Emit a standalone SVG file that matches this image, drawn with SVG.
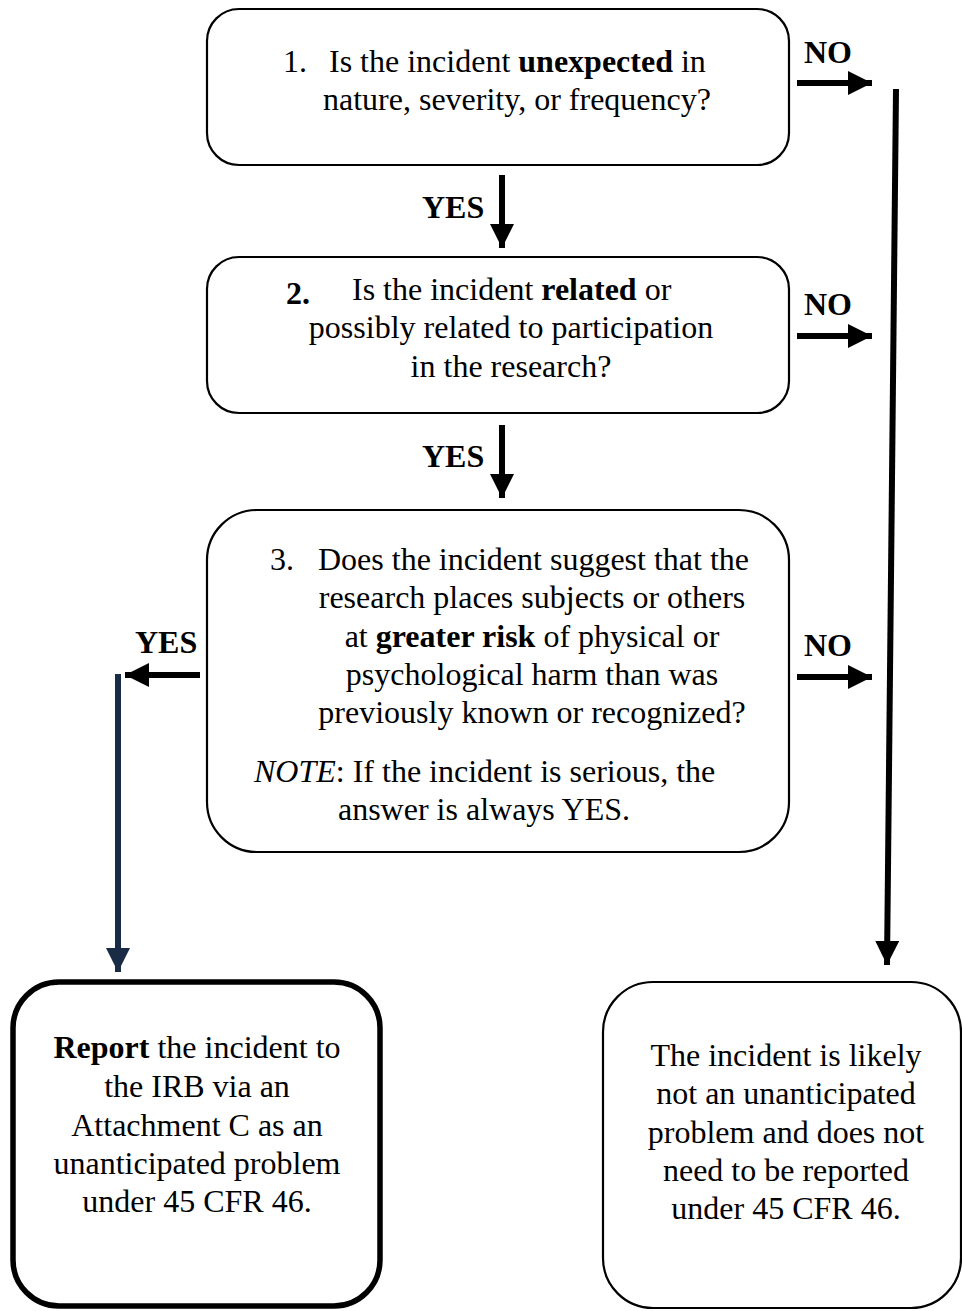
<svg xmlns="http://www.w3.org/2000/svg" width="962" height="1311" viewBox="0 0 962 1311">
<style>
.box{fill:#fff;stroke:#000;stroke-width:2.2}
.t{font-family:"Liberation Serif","Times New Roman",serif;font-size:32px;fill:#000}
.b{font-weight:bold}
.lbl{font-family:"Liberation Serif","Times New Roman",serif;font-size:32px;font-weight:bold;fill:#000}
.c{text-anchor:middle}
.ln{stroke:#000;stroke-width:6;fill:none}
</style>
<defs>
<marker id="ah" markerWidth="4" markerHeight="4" refX="4" refY="2" orient="auto" markerUnits="strokeWidth" viewBox="0 0 4 4">
<path d="M0,0 L4,2 L0,4 Z" fill="#000"/>
</marker>
<marker id="ahn" markerWidth="4" markerHeight="4" refX="4" refY="2" orient="auto" markerUnits="strokeWidth" viewBox="0 0 4 4">
<path d="M0,0 L4,2 L0,4 Z" fill="#1a2b45"/>
</marker>
</defs>
<rect width="962" height="1311" fill="#fff"/>

<g id="q1">
<rect class="box" x="207" y="9" width="582" height="156" rx="32"/>
<text class="t" x="283" y="72">1.</text>
<text class="t" x="329" y="72">Is the incident <tspan class="b">unexpected</tspan> in</text>
<text class="t" x="323" y="110">nature, severity, or frequency?</text>
</g>

<g id="q2">
<rect class="box" x="207" y="257" width="582" height="156" rx="32"/>
<text class="t b" x="286" y="304" font-size="26">2.</text>
<text class="t" x="352" y="300">Is the incident <tspan class="b">related</tspan> or</text>
<text class="t c" x="511" y="338">possibly related to participation</text>
<text class="t c" x="511" y="377">in the research?</text>
</g>

<g id="q3">
<rect class="box" x="207" y="510" width="582" height="342" rx="50"/>
<text class="t" x="270" y="570">3.</text>
<text class="t" x="318" y="570">Does the incident suggest that the</text>
<text class="t c" x="532" y="608">research places subjects or others</text>
<text class="t c" x="532" y="647">at <tspan class="b">greater risk</tspan> of physical or</text>
<text class="t c" x="532" y="685">psychological harm than was</text>
<text class="t c" x="532" y="723">previously known or recognized?</text>
<text class="t" x="254" y="782"><tspan font-style="italic">NOTE</tspan>: If the incident is serious, the</text>
<text class="t c" x="484" y="820">answer is always YES.</text>
</g>

<g id="report">
<rect x="13" y="982" width="367" height="324" rx="46" fill="#fff" stroke="#000" stroke-width="5.5"/>
<text class="t c" x="197" y="1058"><tspan class="b">Report</tspan> the incident to</text>
<text class="t c" x="197" y="1097">the IRB via an</text>
<text class="t c" x="197" y="1136">Attachment C as an</text>
<text class="t c" x="197" y="1174">unanticipated problem</text>
<text class="t c" x="197" y="1212">under 45 CFR 46.</text>
</g>

<g id="notreport">
<rect class="box" x="603" y="982" width="358" height="326" rx="50"/>
<text class="t c" x="786" y="1066">The incident is likely</text>
<text class="t c" x="786" y="1104">not an unanticipated</text>
<text class="t c" x="786" y="1143">problem and does not</text>
<text class="t c" x="786" y="1181">need to be reported</text>
<text class="t c" x="786" y="1219">under 45 CFR 46.</text>
</g>

<g id="connectors">
<line class="ln" x1="797" y1="83" x2="872" y2="83" marker-end="url(#ah)"/>
<line class="ln" x1="797" y1="336" x2="872" y2="336" marker-end="url(#ah)"/>
<line class="ln" x1="797" y1="677" x2="872" y2="677" marker-end="url(#ah)"/>
<line class="ln" x1="502" y1="175" x2="502" y2="248" marker-end="url(#ah)"/>
<line class="ln" x1="502" y1="425" x2="502" y2="498" marker-end="url(#ah)"/>
<line class="ln" x1="200" y1="675" x2="125" y2="675" marker-end="url(#ah)"/>
<line x1="118" y1="674" x2="118" y2="972" stroke="#1a2b45" stroke-width="6" marker-end="url(#ahn)"/>
<line class="ln" x1="896" y1="89" x2="887" y2="965" marker-end="url(#ah)"/>
<text class="lbl" x="804" y="63">NO</text>
<text class="lbl" x="804" y="315">NO</text>
<text class="lbl" x="804" y="656">NO</text>
<text class="lbl" x="422" y="218">YES</text>
<text class="lbl" x="422" y="467">YES</text>
<text class="lbl" x="135" y="653">YES</text>
</g>
</svg>
